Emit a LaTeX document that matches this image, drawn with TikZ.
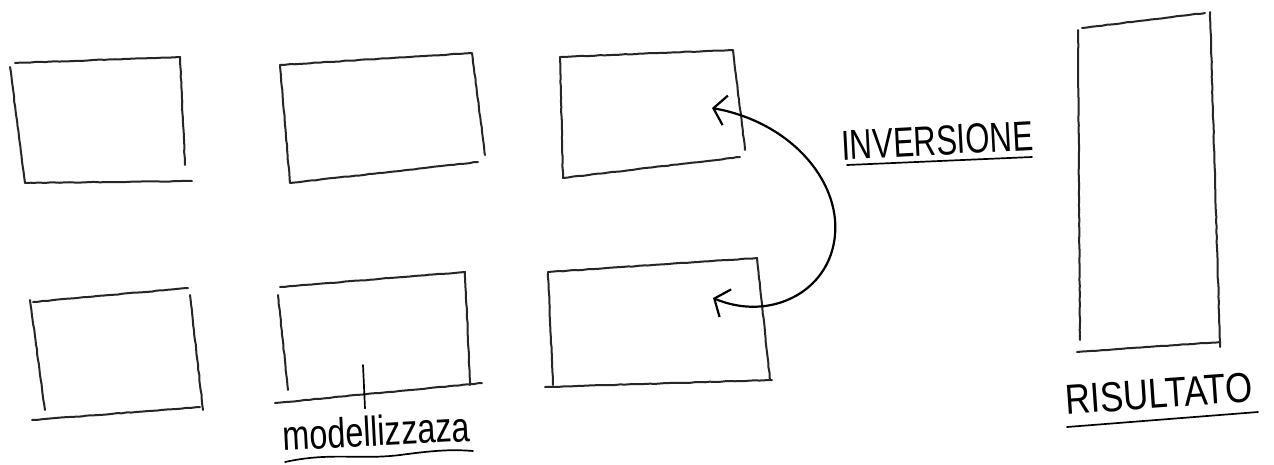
\documentclass[tikz,border=0pt]{standalone}
\usepackage{fontspec}
\setmainfont{Liberation Sans}
\usetikzlibrary{arrows.meta,decorations.pathmorphing,calc}
\begin{document}
\begin{tikzpicture}[x=1pt,y=-1pt,
  sketch/.style={line width=2pt,draw=black!85,line join=round,line cap=round,
    decorate,decoration={random steps,segment length=5pt,amplitude=0.3pt}},
  pen/.style={line width=1.7pt,draw=black,line cap=round},
  lbl/.style={inner sep=0pt,font=\fontsize{42}{42}\selectfont}]
\useasboundingbox (0,0) rectangle (1274,464);
\fill[white] (0,0) rectangle (1274,464);
% row 1
\draw[sketch] (15,63) -- (180,57) -- (185,165);
\draw[sketch] (10,67) -- (25,183) -- (192,181);
\draw[sketch] (280,65) -- (472,53) -- (485,155);
\draw[sketch] (280,65) -- (290,183) -- (478,162);
\draw[sketch] (560,57) -- (733,50) -- (745,150);
\draw[sketch] (560,57) -- (563,178) -- (740,157);
% row 2
\draw[sketch] (33,302) -- (188,288);
\draw[sketch] (30,300) -- (45,410);
\draw[sketch] (190,295) -- (203,410);
\draw[sketch] (32,420) -- (200,407);
\draw[sketch] (280,287) -- (465,272) -- (470,385);
\draw[sketch] (278,295) -- (288,390);
\draw[sketch] (275,403) -- (482,383);
\draw[sketch] (548,272) -- (757,258) -- (770,380);
\draw[sketch] (548,272) -- (553,385);
\draw[sketch] (545,387) -- (772,380);
% result column
\draw[sketch] (1082,28) -- (1205,13);
\draw[sketch] (1078,30) -- (1080,340);
\draw[sketch] (1210,12) -- (1220,347);
\draw[sketch] (1077,352) -- (1220,342);
% labels
\node[lbl,anchor=base,rotate=3] (mod) at (377,446) {\scalebox{0.77}[1]{modellizzaza}};
\node[lbl,anchor=base,rotate=3] (inv) at (938,155) {\scalebox{0.74}[1]{INVERSIONE}};
\node[lbl,anchor=base,rotate=4] (ris) at (1160,408) {\scalebox{0.83}[1]{RISULTATO}};
% underlines
\draw[pen] (285,462) .. controls (330,452) and (360,460) .. (400,455) .. controls (430,451) and (450,449) .. (473,451);
\draw[pen] (847,165) -- (1032,157);
\draw[pen] (1067,427) -- (1258,412);
% tick from label to box
\coordinate (tk) at (363,365);
\draw[pen] (tk) -- ($(tk |- mod.north)+(2,-7)$);
% inversion arrow
\coordinate (t1) at (712,108);
\coordinate (t2) at (713,298);
\draw[line width=2.2pt,line cap=round,{Straight Barb[length=12pt,width=30pt]}-{Straight Barb[length=12pt,width=30pt]}]
  (t1) .. controls (790,122) and (840,180) .. (835,235) .. controls (830,292) and (770,322) .. (t2);
\end{tikzpicture}
\end{document}
